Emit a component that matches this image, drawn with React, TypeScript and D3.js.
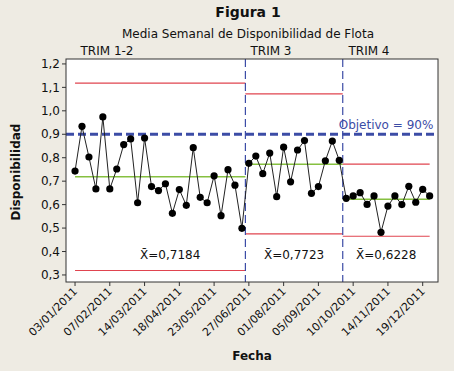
import React from "react";
import * as d3 from "d3";

const trim12 = [0.743, 0.934, 0.803, 0.667, 0.974, 0.667, 0.752, 0.856, 0.880, 0.608, 0.884, 0.677, 0.660, 0.689, 0.563, 0.664, 0.597, 0.843, 0.631, 0.608, 0.723, 0.553, 0.749, 0.683, 0.499];
const trim3 = [0.776, 0.807, 0.732, 0.820, 0.634, 0.845, 0.697, 0.833, 0.873, 0.648, 0.677, 0.787, 0.871, 0.789];
const trim4 = [0.627, 0.637, 0.651, 0.601, 0.637, 0.482, 0.594, 0.637, 0.600, 0.678, 0.610, 0.665, 0.637];

const segments = [
  { name: "TRIM 1-2", values: trim12, mean: 0.7184, ucl: 1.118, lcl: 0.319, meanLabel: "0,7184" },
  { name: "TRIM 3", values: trim3, mean: 0.7723, ucl: 1.072, lcl: 0.475, meanLabel: "0,7723" },
  { name: "TRIM 4", values: trim4, mean: 0.6228, ucl: 0.773, lcl: 0.465, meanLabel: "0,6228" },
];

const xTickWeeks = [0, 5, 10, 15, 20, 25, 30, 35, 40, 45, 50];
const xTickLabels = ["03/01/2011", "07/02/2011", "14/03/2011", "18/04/2011", "23/05/2011", "27/06/2011", "01/08/2011", "05/09/2011", "10/10/2011", "14/11/2011", "19/12/2011"];
const yTicks = [0.3, 0.4, 0.5, 0.6, 0.7, 0.8, 0.9, 1.0, 1.1, 1.2];
const yTickLabels = ["0,3", "0,4", "0,5", "0,6", "0,7", "0,8", "0,9", "1,0", "1,1", "1,2"];
const objetivo = 0.9;

const W = 454, H = 371;
const L = 66, R = 438, T = 59, B = 282;
const FONT = "DejaVu Sans, Verdana, sans-serif";
const BLUE = "#3c4ca6";
const RED = "#e0444f";
const GREEN = "#86c040";

export default function App() {
  const x = d3.scaleLinear().domain([-1.3, 52.2]).range([L, R]);
  const y = d3.scaleLinear().domain([0.27, 1.221]).range([B, T]);

  let idx = 0;
  const segs = segments.map((s, si) => {
    const start = idx;
    idx += s.values.length;
    const end = idx - 1;
    const pts = s.values.map((v, i) => [start + i, v] as [number, number]);
    const x0 = si === 0 ? x(start) : x(start - 0.5);
    const x1 = si === segments.length - 1 ? x(end) : x(end + 0.5);
    return { ...s, pts, x0, x1, start, end };
  });
  const allPts = segs.flatMap((s) => s.pts);
  const line = d3.line<[number, number]>().x((d) => x(d[0])).y((d) => y(d[1]));
  const dividers = segs.slice(0, -1).map((s) => x(s.end + 0.5));

  return (
    <svg width={W} height={H} style={{ position: "fixed", left: 0, top: 0 }} fontFamily={FONT}>
      <rect x={0} y={0} width={W} height={H} fill="#eeebe3" />
      <rect x={L} y={T} width={R - L} height={B - T} fill="#ffffff" />
      <text x={248} y={17} textAnchor="middle" fontSize={14} fontWeight="bold" fill="#111">Figura 1</text>
      <text x={248} y={38} textAnchor="middle" fontSize={12} fill="#111">Media Semanal de Disponibilidad de Flota</text>
      {segs.map((s, i) => (
        <text key={"tn" + i} x={[107, 271, 369][i]} y={55} textAnchor="middle" fontSize={12} fill="#111">{s.name}</text>
      ))}
      {segs.map((s, i) => (
        <g key={"lim" + i}>
          <line x1={s.x0} x2={s.x1} y1={y(s.ucl)} y2={y(s.ucl)} stroke={RED} strokeWidth={1.2} />
          <line x1={s.x0} x2={s.x1} y1={y(s.lcl)} y2={y(s.lcl)} stroke={RED} strokeWidth={1.2} />
          <line x1={s.x0} x2={s.x1} y1={y(s.mean)} y2={y(s.mean)} stroke={GREEN} strokeWidth={1.5} />
          <text x={(s.x0 + s.x1) / 2 + (i === 0 ? 10 : 0)} y={259} textAnchor="middle" fontSize={12} fill="#111">
            <tspan>X̄</tspan>=<tspan>{s.meanLabel}</tspan>
          </text>
        </g>
      ))}
      {dividers.map((d, i) => (
        <line key={"dv" + i} x1={d} x2={d} y1={T} y2={B} stroke={BLUE} strokeWidth={1.2} strokeDasharray="8,4" />
      ))}
      <line x1={L} x2={R} y1={y(objetivo)} y2={y(objetivo)} stroke={BLUE} strokeWidth={3} strokeDasharray="8,4" />
      <text x={386} y={129} textAnchor="middle" fontSize={12} fill={BLUE}>Objetivo = 90%</text>
      <path d={line(allPts) || ""} fill="none" stroke="#222" strokeWidth={1} />
      {allPts.map((p, i) => (
        <circle key={"p" + i} cx={x(p[0])} cy={y(p[1])} r={3.6} fill="#000" />
      ))}
      <rect x={L} y={T} width={R - L} height={B - T} fill="none" stroke="#333" strokeWidth={1} />
      {yTicks.map((t, i) => (
        <g key={"yt" + i}>
          <line x1={L - 4} x2={L} y1={y(t)} y2={y(t)} stroke="#333" />
          <text x={L - 6} y={y(t)} dy="0.35em" textAnchor="end" fontSize={12} fill="#111">{yTickLabels[i]}</text>
        </g>
      ))}
      {xTickWeeks.map((w, i) => (
        <g key={"xt" + i}>
          <line x1={x(w)} x2={x(w)} y1={B} y2={B + 4} stroke="#333" />
          <text transform={`translate(${x(w) + 3},${B + 10}) rotate(-45)`} textAnchor="end" fontSize={11} fill="#111">{xTickLabels[i]}</text>
        </g>
      ))}
      <text x={252} y={360} textAnchor="middle" fontSize={12} fontWeight="bold" fill="#111">Fecha</text>
      <text transform={`translate(20,172) rotate(-90)`} textAnchor="middle" fontSize={12} fontWeight="bold" fill="#111">Disponibilidad</text>
    </svg>
  );
}
